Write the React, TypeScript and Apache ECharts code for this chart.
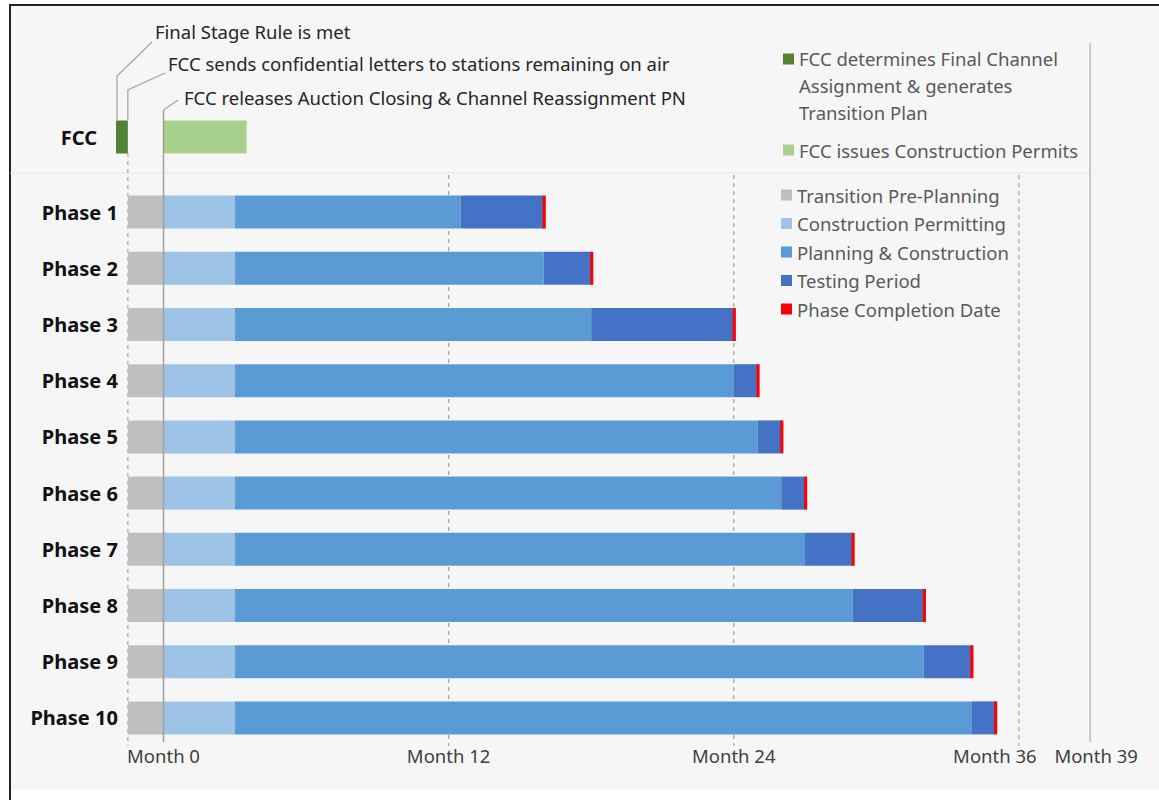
import React, { useEffect, useRef } from "react";
import * as echarts from "echarts";

// ---------------- data ----------------
const fccCategories = ["FCC"];
const fccAssignmentStart = [-2];
const fccAssignmentEnd = [-1.5];
const fccPermitsStart = [0];
const fccPermitsEnd = [3.5];

const phaseCategories = [
  "Phase 1", "Phase 2", "Phase 3", "Phase 4", "Phase 5",
  "Phase 6", "Phase 7", "Phase 8", "Phase 9", "Phase 10",
];
const prePlanningStart = [-1.5, -1.5, -1.5, -1.5, -1.5, -1.5, -1.5, -1.5, -1.5, -1.5];
const permittingStart = [0, 0, 0, 0, 0, 0, 0, 0, 0, 0];
const permittingEnd = [3, 3, 3, 3, 3, 3, 3, 3, 3, 3];
const planningEnd = [12.5, 16, 18, 24, 25, 26, 27, 29, 32, 34];
const testingEnd = [16, 18, 24, 25, 26, 27, 29, 32, 34, 35];

const monthTicks = [0, 12, 24, 36, 39];
const dashedMonths = [12, 24, 36];
const milestoneFinalStage = -2;
const milestoneLetters = -1.5;
const milestoneAuctionClose = 0;
const horizonMonth = 39;

const callouts = [
  "Final Stage Rule is met",
  "FCC sends confidential letters to stations remaining on air",
  "FCC releases Auction Closing & Channel Reassignment PN",
];

const names = {
  assign: "FCC determines Final Channel Assignment & generates Transition Plan",
  permits: "FCC issues Construction Permits",
  pre: "Transition Pre-Planning",
  permit: "Construction Permitting",
  plan: "Planning & Construction",
  test: "Testing Period",
  done: "Phase Completion Date",
};
const assignLegendLines = ["FCC determines Final Channel", "Assignment & generates", "Transition Plan"];

// ---------------- styles ----------------
const FONT = '"Noto Sans", "DejaVu Sans", sans-serif';
const COLORS = {
  assign: "#548235",
  permits: "#a9d18e",
  pre: "#bfbfbf",
  permit: "#9dc3e6",
  plan: "#5b9bd5",
  test: "#4472c4",
  done: "#ff0000",
};
const BAR_H = 33;
const MARK_BEFORE = 0.04;
const MARK_AFTER = 0.09;

const renderSeg = (params: any, api: any) => {
  const cat = api.value(0);
  const p0 = api.coord([api.value(1), cat]);
  const p1 = api.coord([api.value(2), cat]);
  return {
    type: "rect",
    shape: { x: p0[0], y: p0[1] - BAR_H / 2, width: p1[0] - p0[0], height: BAR_H },
    style: { fill: api.visual("color") },
  };
};

const seg = (name: string, color: string, idx: number, data: number[][]) => ({
  type: "custom",
  name,
  xAxisIndex: idx,
  yAxisIndex: idx,
  renderItem: renderSeg,
  itemStyle: { color },
  encode: { x: [1, 2], y: 0 },
  data,
  z: 3,
});

function buildOption() {
  const fccA = fccCategories.map((_, i) => [i, fccAssignmentStart[i], fccAssignmentEnd[i]]);
  const fccP = fccCategories.map((_, i) => [i, fccPermitsStart[i], fccPermitsEnd[i]]);
  const pre = phaseCategories.map((_, i) => [i, prePlanningStart[i], permittingStart[i]]);
  const perm = phaseCategories.map((_, i) => [i, permittingStart[i], permittingEnd[i]]);
  const plan = phaseCategories.map((_, i) => [i, permittingEnd[i], planningEnd[i]]);
  const test = phaseCategories.map((_, i) => [i, planningEnd[i], testingEnd[i]]);
  const done = phaseCategories.map((_, i) => [i, testingEnd[i] - MARK_BEFORE, testingEnd[i] + MARK_AFTER]);

  const legendText = { fontFamily: FONT, fontSize: 18.5, color: "#595959" };
  const pxPerMonth = 23.76;
  const month0 = 163.5;
  const right = 1159 - (month0 + horizonMonth * pxPerMonth);

  return {
    animation: false,
    backgroundColor: "transparent",
    textStyle: { fontFamily: FONT },
    grid: [
      { left: month0 - 2 * pxPerMonth, right, top: 112, height: 50 },
      { left: month0 - 1.5 * pxPerMonth, right, top: 184, height: 562 },
    ],
    xAxis: [
      { type: "value", gridIndex: 0, min: -2, max: horizonMonth, show: false },
      {
        type: "value",
        gridIndex: 1,
        min: -1.5,
        max: horizonMonth,
        axisLine: { show: false },
        axisTick: { show: false },
        splitLine: { show: false },
        axisLabel: {
          customValues: monthTicks,
          margin: 0,
          fontFamily: FONT,
          fontSize: 18.5,
          color: "#404040",
          formatter: (v: number) =>
            v === 36 ? `{l|Month ${v}}` : v === 39 ? `{r|Month ${v}}` : `Month ${v}`,
          rich: {
            l: { fontFamily: FONT, fontSize: 18.5, color: "#404040", padding: [0, 48, 0, 0] },
            r: { fontFamily: FONT, fontSize: 18.5, color: "#404040", padding: [0, 0, 0, 12] },
          },
        },
      },
    ],
    yAxis: [
      {
        type: "category",
        gridIndex: 0,
        data: fccCategories,
        axisLine: { show: false },
        axisTick: { show: false },
        axisLabel: { margin: 19, fontFamily: FONT, fontSize: 20, fontWeight: "bold", color: "#111" },
      },
      {
        type: "category",
        gridIndex: 1,
        data: phaseCategories,
        inverse: true,
        axisLine: { show: false },
        axisTick: { show: false },
        axisLabel: { margin: 10, fontFamily: FONT, fontSize: 20, fontWeight: "bold", color: "#111" },
      },
    ],
    legend: [
      {
        data: [names.assign],
        orient: "vertical",
        left: 783,
        top: 59 - 66.25,
        padding: 0,
        itemWidth: 11,
        itemHeight: 11,
        icon: "rect",
        selectedMode: false,
        formatter: () =>
          `{f|${assignLegendLines[0]}}\n{n|${assignLegendLines[1]}}\n{n|${assignLegendLines[2]}}`,
        textStyle: {
          ...legendText,
          lineHeight: 26.5,
          rich: {
            f: { ...legendText, lineHeight: 79.5, verticalAlign: "bottom", padding: [0, 0, 4, 0] },
            n: { ...legendText, lineHeight: 26.5 },
          },
        },
      },
      {
        data: [names.permits],
        orient: "vertical",
        left: 783,
        top: 150 - 10,
        padding: 0,
        itemWidth: 11,
        itemHeight: 11,
        icon: "rect",
        selectedMode: false,
        textStyle: { ...legendText, lineHeight: 20 },
      },
      {
        data: [names.pre, names.permit, names.plan, names.test, names.done],
        orient: "vertical",
        left: 781,
        top: 195 - 10,
        padding: 0,
        itemGap: 8.5,
        itemWidth: 11,
        itemHeight: 11,
        icon: "rect",
        selectedMode: false,
        textStyle: { ...legendText, lineHeight: 20 },
      },
    ],
    series: [
      seg(names.assign, COLORS.assign, 0, fccA),
      seg(names.permits, COLORS.permits, 0, fccP),
      seg(names.pre, COLORS.pre, 1, pre),
      seg(names.permit, COLORS.permit, 1, perm),
      seg(names.plan, COLORS.plan, 1, plan),
      seg(names.test, COLORS.test, 1, test),
      seg(names.done, COLORS.done, 1, done),
    ],
  };
}

function buildGraphic(x0: (m: number) => number, x1: (m: number) => number) {
  const line = (x: number, y1: number, y2: number, stroke: string, w: number, dash: number[] | null, z: number) => ({
    type: "line",
    silent: true,
    z,
    shape: { x1: x, y1, x2: x, y2 },
    style: { stroke, lineWidth: w, lineDash: dash },
  });
  const txt = (text: string, x: number, y: number) => ({
    type: "text",
    silent: true,
    z: 5,
    x,
    y,
    style: { text, fill: "#262626", fontFamily: FONT, fontSize: 18.5, verticalAlign: "middle", align: "left" },
  });
  const poly = (points: number[][]) => ({
    type: "polyline",
    silent: true,
    z: 5,
    shape: { points },
    style: { stroke: "#a6a6a6", lineWidth: 1.3, fill: "none" },
  });

  const xFinal = x0(milestoneFinalStage) + 1;
  const xLetters = x1(milestoneLetters);
  const xClose = x1(milestoneAuctionClose);
  const xHorizon = x1(horizonMonth);

  const elements: any[] = [
    // separator between FCC lane and phases
    { type: "line", silent: true, z: 0, shape: { x1: 10, y1: 173, x2: xHorizon, y2: 173 }, style: { stroke: "#e6e6e6", lineWidth: 1 } },
    ...dashedMonths.map((m) => line(x1(m), 175, 746, "#a8a8a8", 1.3, [4, 4], 0)),
    line(xLetters, 153, 746, "#b0b0b0", 1.3, [4, 4], 0),
    line(xHorizon, 43, 742, "#c8c8c8", 2, null, 0),
    line(xClose, 110, 742, "#a0a0a0", 1.5, null, 10),
    poly([[xFinal, 120], [xFinal, 76], [152, 42]]),
    poly([[xLetters, 120], [xLetters, 90], [165, 73]]),
    poly([[xClose, 110], [178, 100]]),
    txt(callouts[0], 155, 31),
    txt(callouts[1], 168, 63),
    txt(callouts[2], 184, 97),
  ];
  return elements;
}

export default function App() {
  const ref = useRef<HTMLDivElement>(null);
  useEffect(() => {
    const el = ref.current;
    if (!el) return;
    const chart = echarts.init(el, null, { renderer: "svg" });
    chart.setOption(buildOption() as any);
    const x0 = (m: number) => chart.convertToPixel({ xAxisIndex: 0 }, m) as unknown as number;
    const x1 = (m: number) => chart.convertToPixel({ xAxisIndex: 1 }, m) as unknown as number;
    chart.setOption({ graphic: buildGraphic(x0, x1) } as any);
    return () => chart.dispose();
  }, []);
  return (
    <div style={{ position: "fixed", left: 0, top: 0, width: 1159, height: 800, background: "#ffffff", overflow: "hidden" }}>
      <div
        style={{
          position: "absolute",
          left: 9,
          top: 4,
          width: 1150,
          height: 784,
          background: "#f6f6f6",
          borderLeft: "2px solid #222",
          borderTop: "2px solid #222",
        }}
      />
      <div style={{ position: "absolute", left: 9, top: 788, width: 2, height: 12, background: "#222" }} />
      <div ref={ref} style={{ position: "absolute", left: 0, top: 0, width: 1159, height: 800 }} />
    </div>
  );
}
